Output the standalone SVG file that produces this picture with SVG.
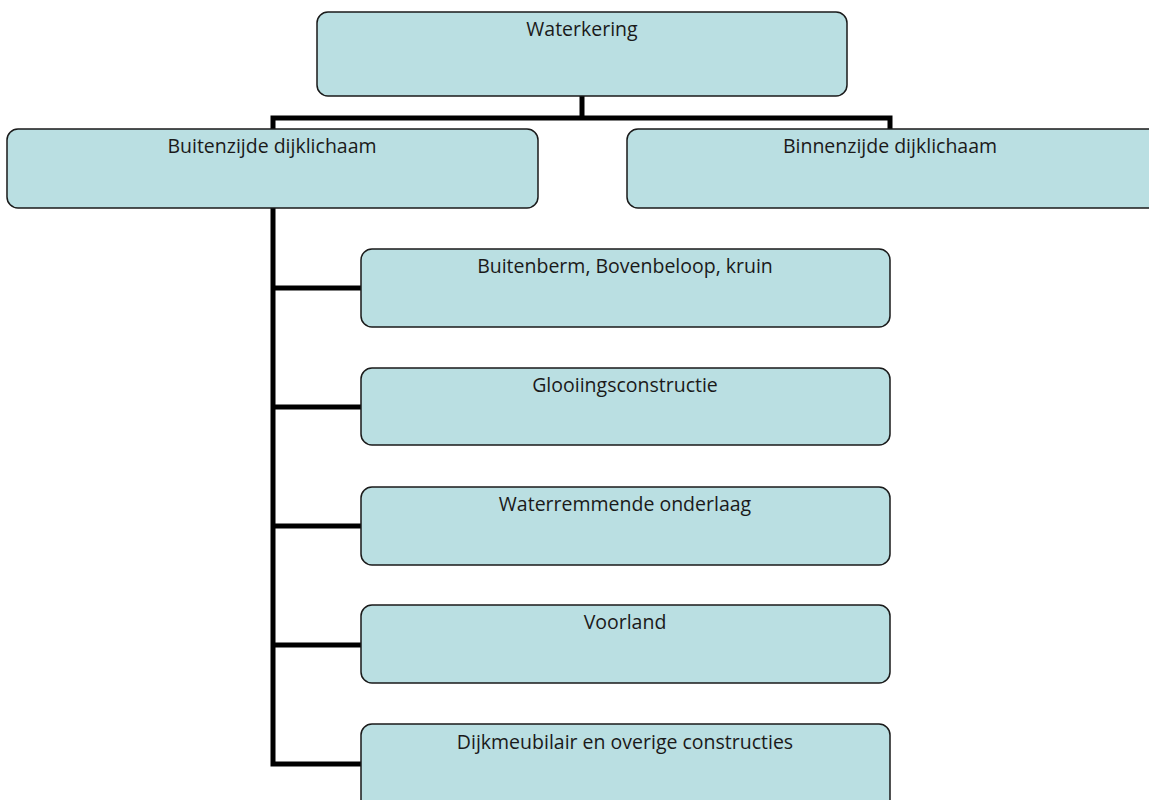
<svg xmlns="http://www.w3.org/2000/svg" width="1149" height="800" viewBox="0 0 1149 800">
<style>
.box{fill:#badfe2;stroke:#1a1a1a;stroke-width:1.5}
.lbl{font-family:"Open Sans","Liberation Sans",sans-serif;font-size:19.5px;fill:#1a1a1a;text-anchor:middle}
.con{fill:none;stroke:#000;stroke-width:5}
</style>
<rect width="1149" height="800" fill="#fff"/>
<g id="connectors">
<path class="con" d="M582 96 V118 M273 129 V118 H890 V129"/>
<path class="con" d="M273 208 V764 H361 M273 288 H361 M273 407 H361 M273 526 H361 M273 645 H361"/>
</g>
<g id="n-waterkering"><rect class="box" x="317" y="12" width="530" height="84" rx="11"/><text class="lbl" x="582" y="36">Waterkering</text></g>
<g id="n-buitenzijde"><rect class="box" x="7" y="129" width="531" height="79" rx="11"/><text class="lbl" x="272" y="153">Buitenzijde dijklichaam</text></g>
<g id="n-binnenzijde"><rect class="box" x="627" y="129" width="535" height="79" rx="11"/><text class="lbl" x="890" y="153">Binnenzijde dijklichaam</text></g>
<g id="n-buitenberm"><rect class="box" x="361" y="249" width="529" height="78" rx="11"/><text class="lbl" x="625" y="273">Buitenberm, Bovenbeloop, kruin</text></g>
<g id="n-glooiing"><rect class="box" x="361" y="368" width="529" height="77" rx="11"/><text class="lbl" x="625" y="392">Glooiingsconstructie</text></g>
<g id="n-waterremmende"><rect class="box" x="361" y="487" width="529" height="78" rx="11"/><text class="lbl" x="625" y="511">Waterremmende onderlaag</text></g>
<g id="n-voorland"><rect class="box" x="361" y="605" width="529" height="78" rx="11"/><text class="lbl" x="625" y="629">Voorland</text></g>
<g id="n-dijkmeubilair"><rect class="box" x="361" y="724" width="529" height="90" rx="11"/><text class="lbl" x="625" y="749">Dijkmeubilair en overige constructies</text></g>
</svg>
